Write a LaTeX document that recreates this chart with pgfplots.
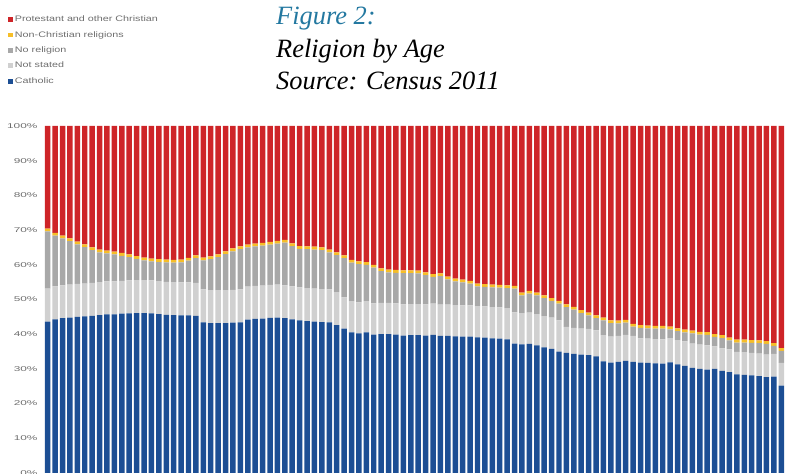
\documentclass[border=0pt]{standalone}
\usepackage{pgfplots}
\usepackage{pgfplotstable}
\usepackage{graphicx}
\usepackage{fontspec}
\setmainfont{Liberation Serif}
\setsansfont{Liberation Sans}
\pgfplotsset{compat=1.18}
\definecolor{cath}{RGB}{28,78,148}
\definecolor{notst}{RGB}{208,208,208}
\definecolor{norel}{RGB}{168,168,168}
\definecolor{nonchr}{RGB}{246,190,40}
\definecolor{prot}{RGB}{206,36,40}
\definecolor{figblue}{RGB}{35,120,160}
\definecolor{lblgray}{RGB}{110,110,110}
\newcommand{\wide}[1]{\scalebox{1.35}[1]{#1}}

\pgfplotstableread{
i C NS NR NC P
0 43.6 9.5 16.5 0.8 29.6
1 44.3 9.5 14.6 0.8 30.8
2 44.6 9.5 13.5 0.8 31.6
3 44.8 9.5 12.5 0.8 32.4
4 45.0 9.5 11.4 0.8 33.3
5 45.1 9.5 10.5 0.8 34.1
6 45.3 9.5 9.4 0.8 35.0
7 45.5 9.5 8.6 0.8 35.6
8 45.7 9.5 8.1 0.8 35.9
9 45.7 9.5 7.8 0.8 36.2
10 45.9 9.5 7.2 0.8 36.6
11 46.0 9.5 6.7 0.8 37.0
12 46.1 9.5 6.1 0.8 37.5
13 46.1 9.5 5.7 0.8 37.9
14 46.0 9.5 5.5 0.8 38.2
15 45.8 9.5 5.5 0.8 38.4
16 45.6 9.5 5.6 0.8 38.5
17 45.5 9.5 5.6 0.8 38.6
18 45.4 9.5 5.8 0.8 38.5
19 45.4 9.5 6.3 0.8 38.0
20 45.3 9.5 7.1 0.8 37.3
21 43.4 9.5 8.4 0.8 37.9
22 43.2 9.5 8.9 0.8 37.6
23 43.2 9.5 9.5 0.8 37.0
24 43.2 9.5 10.4 0.8 36.1
25 43.3 9.5 11.1 0.8 35.3
26 43.4 9.5 11.6 0.8 34.7
27 44.2 9.5 11.3 0.8 34.2
28 44.4 9.5 11.4 0.8 33.9
29 44.5 9.5 11.5 0.8 33.7
30 44.7 9.5 11.6 0.8 33.4
31 44.8 9.5 11.8 0.8 33.1
32 44.6 9.5 12.3 0.8 32.8
33 44.3 9.5 11.6 0.8 33.8
34 44.0 9.5 11.1 0.8 34.6
35 43.8 9.5 11.2 0.8 34.7
36 43.6 9.5 11.3 0.8 34.8
37 43.5 9.5 11.2 0.8 35.0
38 43.4 9.5 10.7 0.8 35.6
39 42.6 9.5 10.7 0.8 36.4
40 41.6 9.0 11.3 0.8 37.3
41 40.5 9.0 11.1 0.8 38.6
42 40.2 9.0 11.0 0.8 39.0
43 40.5 9.0 10.5 0.8 39.2
44 39.9 9.0 10.3 0.8 40.0
45 40.0 9.0 9.2 0.8 41.0
46 40.0 9.0 8.8 0.8 41.4
47 39.9 9.0 8.8 0.8 41.5
48 39.6 9.0 9.0 0.8 41.6
49 39.7 9.0 8.9 0.8 41.6
50 39.7 9.0 8.8 0.8 41.7
51 39.6 9.0 8.4 0.8 42.2
52 39.8 9.0 7.7 0.8 42.7
53 39.5 9.0 8.2 0.8 42.5
54 39.5 9.0 7.3 0.8 43.4
55 39.4 9.0 6.8 0.8 44.0
56 39.3 9.0 6.6 0.8 44.3
57 39.3 9.0 6.3 0.8 44.6
58 39.1 9.0 5.7 0.8 45.4
59 39.0 9.0 5.6 0.8 45.6
60 38.8 9.0 5.7 0.8 45.7
61 38.7 9.0 5.7 0.8 45.8
62 38.5 9.0 5.8 0.8 45.9
63 37.3 9.0 6.8 0.8 46.1
64 37.1 9.0 5.1 0.8 48.0
65 37.2 9.0 5.5 0.8 47.5
66 36.8 9.0 5.4 0.8 48.0
67 36.2 9.0 5.2 0.8 48.8
68 35.8 9.0 4.8 0.8 49.6
69 35.0 9.0 4.8 0.8 50.4
70 34.6 7.5 5.7 0.8 51.4
71 34.3 7.5 5.3 0.8 52.1
72 34.1 7.5 4.5 0.8 53.1
73 34.0 7.5 3.9 0.8 53.8
74 33.6 7.5 3.5 0.8 54.6
75 32.2 7.5 4.3 0.8 55.2
76 31.8 7.5 3.9 0.8 56.0
77 32.0 7.5 3.6 0.8 56.1
78 32.3 7.5 3.5 0.8 55.9
79 32.0 7.5 2.7 0.8 57.0
80 31.8 7.0 3.0 0.8 57.4
81 31.7 7.0 3.0 0.8 57.5
82 31.6 7.0 3.0 0.8 57.6
83 31.5 7.0 3.1 0.8 57.6
84 31.9 7.0 2.5 0.8 57.8
85 31.3 7.0 2.6 0.8 58.3
86 30.9 7.0 2.6 0.8 58.7
87 30.3 7.0 2.9 0.8 59.0
88 30.0 7.0 2.9 0.8 59.3
89 29.8 7.0 3.0 0.8 59.4
90 30.0 6.5 2.7 0.8 60.0
91 29.4 6.5 3.0 0.8 60.3
92 29.1 6.5 2.6 0.8 61.0
93 28.4 6.5 2.7 0.8 61.6
94 28.3 6.5 2.8 0.8 61.6
95 28.1 6.5 2.9 0.8 61.7
96 27.9 6.5 3.0 0.8 61.8
97 27.6 6.5 3.1 0.8 62.0
98 27.8 6.5 2.3 0.8 62.6
99 25.2 6.5 3.5 0.8 64.0
}\datatable

\begin{document}
\begin{tikzpicture}[x=1bp,y=1bp]
\begin{axis}[
  at={(0,0)}, anchor=south west,
  scale only axis,
  width=741bp, height=347bp,
  xmin=-0.5, xmax=99.5,
  ymin=0, ymax=100,
  ybar stacked,
  bar width=0.74,
  axis line style={draw=none},
  xtick=\empty,
  ytick={0,10,...,100},
  yticklabel={\scalebox{1.7}[1]{\pgfmathprintnumber{\tick}\%}},
  yticklabel style={font=\sffamily\fontsize{7}{8}\selectfont, text=lblgray, anchor=east, xshift=-3bp},
  major tick length=0pt,
  /pgf/number format/assume math mode=true,
  legend image code/.code={\fill[#1] (0bp,-2.4bp) rectangle (4.8bp,2.4bp);},
  reverse legend,
  legend cell align=left,
  legend style={at={(axis description cs:-0.0486,1.323)}, anchor=north west,
    draw=none, fill=none, font=\sffamily\fontsize{8}{8}\selectfont, text=lblgray,
    row sep=4.1bp, inner sep=0pt,
    /tikz/every even column/.append style={column sep=2.5bp}},
]
\addplot[fill=cath, draw=none] table[x=i, y=C] {\datatable};
\addlegendentry{\wide{Catholic}}
\addplot[fill=notst, draw=none] table[x=i, y=NS] {\datatable};
\addlegendentry{\wide{Not stated}}
\addplot[fill=norel, draw=none] table[x=i, y=NR] {\datatable};
\addlegendentry{\wide{No religion}}
\addplot[fill=nonchr, draw=none] table[x=i, y=NC] {\datatable};
\addlegendentry{\wide{Non-Christian religions}}
\addplot[fill=prot, draw=none] table[x=i, y=P] {\datatable};
\addlegendentry{\wide{Protestant and other Christian}}
\end{axis}
\node[anchor=base west, font=\itshape\fontsize{26.5}{26.5}\selectfont, text=figblue, inner sep=0pt] at (232,448) {Figure 2:};
\node[anchor=base west, font=\itshape\fontsize{26.5}{26.5}\selectfont, inner sep=0pt] at (232,415) {Religion by Age};
\node[anchor=base west, font=\itshape\fontsize{26.5}{26.5}\selectfont, inner sep=0pt] at (232,383) {Source: Census 2011};
\pgfresetboundingbox
\path[use as bounding box] (-44,-1) rectangle (743,473);
\end{tikzpicture}
\end{document}
